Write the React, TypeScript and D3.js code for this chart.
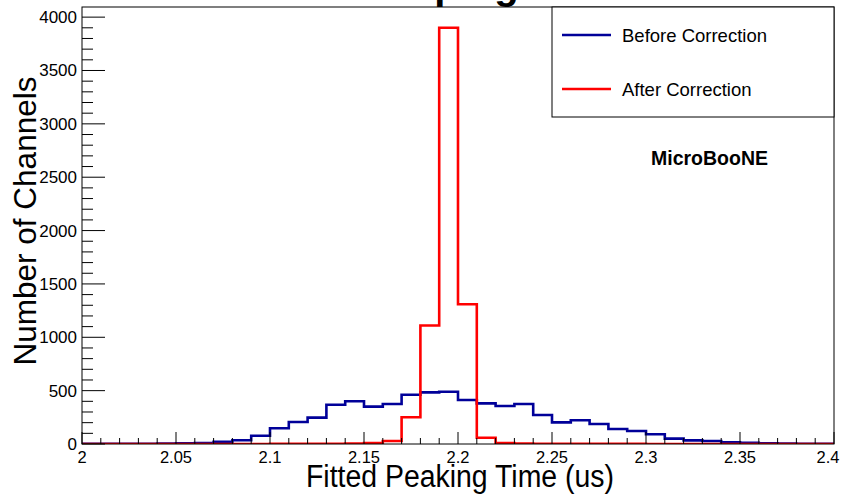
import React from "react";
import * as d3 from "d3";

const binEdgesStart = 2.0;
const binWidth = 0.01;
const beforeCorrection = [
  2, 2, 3, 3, 4, 6, 10, 20, 35, 78, 147, 206, 247, 368, 400, 350, 375, 462, 484, 490,
  412, 381, 356, 375, 272, 203, 222, 187, 140, 122, 91, 50, 34, 28, 16, 12, 7, 5, 3, 2,
];
const afterCorrection = [
  0, 0, 0, 0, 0, 0, 0, 0, 0, 0, 1, 1, 2, 2, 5, 10, 28, 250, 1110, 3900,
  1310, 59, 10, 5, 3, 2, 2, 1, 1, 1, 0, 0, 0, 0, 0, 0, 0, 0, 0, 0,
];
const xTickLabels = ["2", "2.05", "2.1", "2.15", "2.2", "2.25", "2.3", "2.35", "2.4"];
const yTickLabels = ["0", "500", "1000", "1500", "2000", "2500", "3000", "3500", "4000"];
const legendLabels = ["Before Correction", "After Correction"];
const colors = ["#000099", "#ff0000"];

const W = 847;
const H = 495;
const L = 82, R = 834, T = 7, B = 444;
const FONT = "'Liberation Sans', Arial, Helvetica, sans-serif";

export default function App() {
  const x = d3.scaleLinear().domain([2.0, 2.4]).range([L, R]);
  const y = d3.scaleLinear().domain([0, 4095]).range([B, T]);

  const histPath = (vals: number[]) => {
    const p = d3.path();
    p.moveTo(x(binEdgesStart), y(0));
    vals.forEach((v, i) => {
      const x0 = x(binEdgesStart + i * binWidth);
      const x1 = x(binEdgesStart + (i + 1) * binWidth);
      p.lineTo(x0, y(v));
      p.lineTo(x1, y(v));
    });
    p.lineTo(x(binEdgesStart + vals.length * binWidth), y(0));
    return p.toString();
  };

  const xMinor = d3.range(0, 41).map((i) => 2.0 + i * 0.01);
  const yMinor = d3.range(0, 41).map((i) => i * 100);

  return (
    <svg
      width={W}
      height={H}
      style={{ position: "fixed", left: 0, top: 0, background: "#fff" }}
      fontFamily={FONT}
    >
      <rect x={0} y={0} width={W} height={H} fill="#fff" />
      <defs>
        <clipPath id="plotclip">
          <rect x={L} y={T} width={R - L} height={B - T} />
        </clipPath>
      </defs>
      {/* title (mostly cut off at top, as in the reference) */}
      <text x={361} y={-1} fontSize={40} fontWeight="bold" fill="#000">
        Shaping Time
      </text>
      {/* histograms */}
      <g clipPath="url(#plotclip)">
        <path d={histPath(beforeCorrection)} fill="none" stroke={colors[0]} strokeWidth={2.6} />
        <path d={histPath(afterCorrection)} fill="none" stroke={colors[1]} strokeWidth={2.6} />
      </g>
      {/* frame */}
      <rect x={L} y={T} width={R - L} height={B - T} fill="none" stroke="#000" strokeWidth={1} />
      {/* x ticks */}
      {xMinor.map((v, i) => (
        <line
          key={"xt" + i}
          x1={x(v)}
          x2={x(v)}
          y1={B}
          y2={B - (i % 5 === 0 ? 12 : 6)}
          stroke="#000"
          strokeWidth={1}
        />
      ))}
      {/* y ticks */}
      {yMinor.map((v, i) => (
        <line
          key={"yt" + i}
          x1={L}
          x2={L + (i % 5 === 0 ? 23 : 11)}
          y1={y(v)}
          y2={y(v)}
          stroke="#000"
          strokeWidth={1}
        />
      ))}
      {/* x tick labels */}
      {xTickLabels.map((t, i) => (
        <text
          key={"xl" + i}
          x={x(+t) + (i === xTickLabels.length - 1 ? -6 : 0)}
          y={463}
          fontSize={16.5}
          textAnchor="middle"
          fill="#000"
        >
          {t}
        </text>
      ))}
      {/* y tick labels */}
      {yTickLabels.map((t, i) => (
        <text
          key={"yl" + i}
          x={77}
          y={y(+t) + 6}
          fontSize={17}
          textAnchor="end"
          fill="#000"
        >
          {t}
        </text>
      ))}
      {/* axis titles */}
      <text
        x={(L + R) / 2 + 2}
        y={487}
        fontSize={31}
        textAnchor="middle"
        textLength={308}
        lengthAdjust="spacingAndGlyphs"
        fill="#000"
      >
        Fitted Peaking Time (us)
      </text>
      <text
        transform={`translate(36, 221) rotate(-90)`}
        fontSize={31.5}
        textAnchor="middle"
        fill="#000"
      >
        Number of Channels
      </text>
      {/* legend */}
      <rect x={552} y={T} width={R - 552} height={117 - T} fill="#fff" stroke="#000" strokeWidth={1} />
      {legendLabels.map((lab, i) => (
        <g key={"lg" + i}>
          <line x1={562} x2={611} y1={35 + i * 54} y2={35 + i * 54} stroke={colors[i]} strokeWidth={2.6} />
          <text x={622} y={41.5 + i * 54} fontSize={18.5} fill="#000">
            {lab}
          </text>
        </g>
      ))}
      <text x={651} y={165} fontSize={19.5} fontWeight="bold" fill="#000">
        MicroBooNE
      </text>
    </svg>
  );
}
